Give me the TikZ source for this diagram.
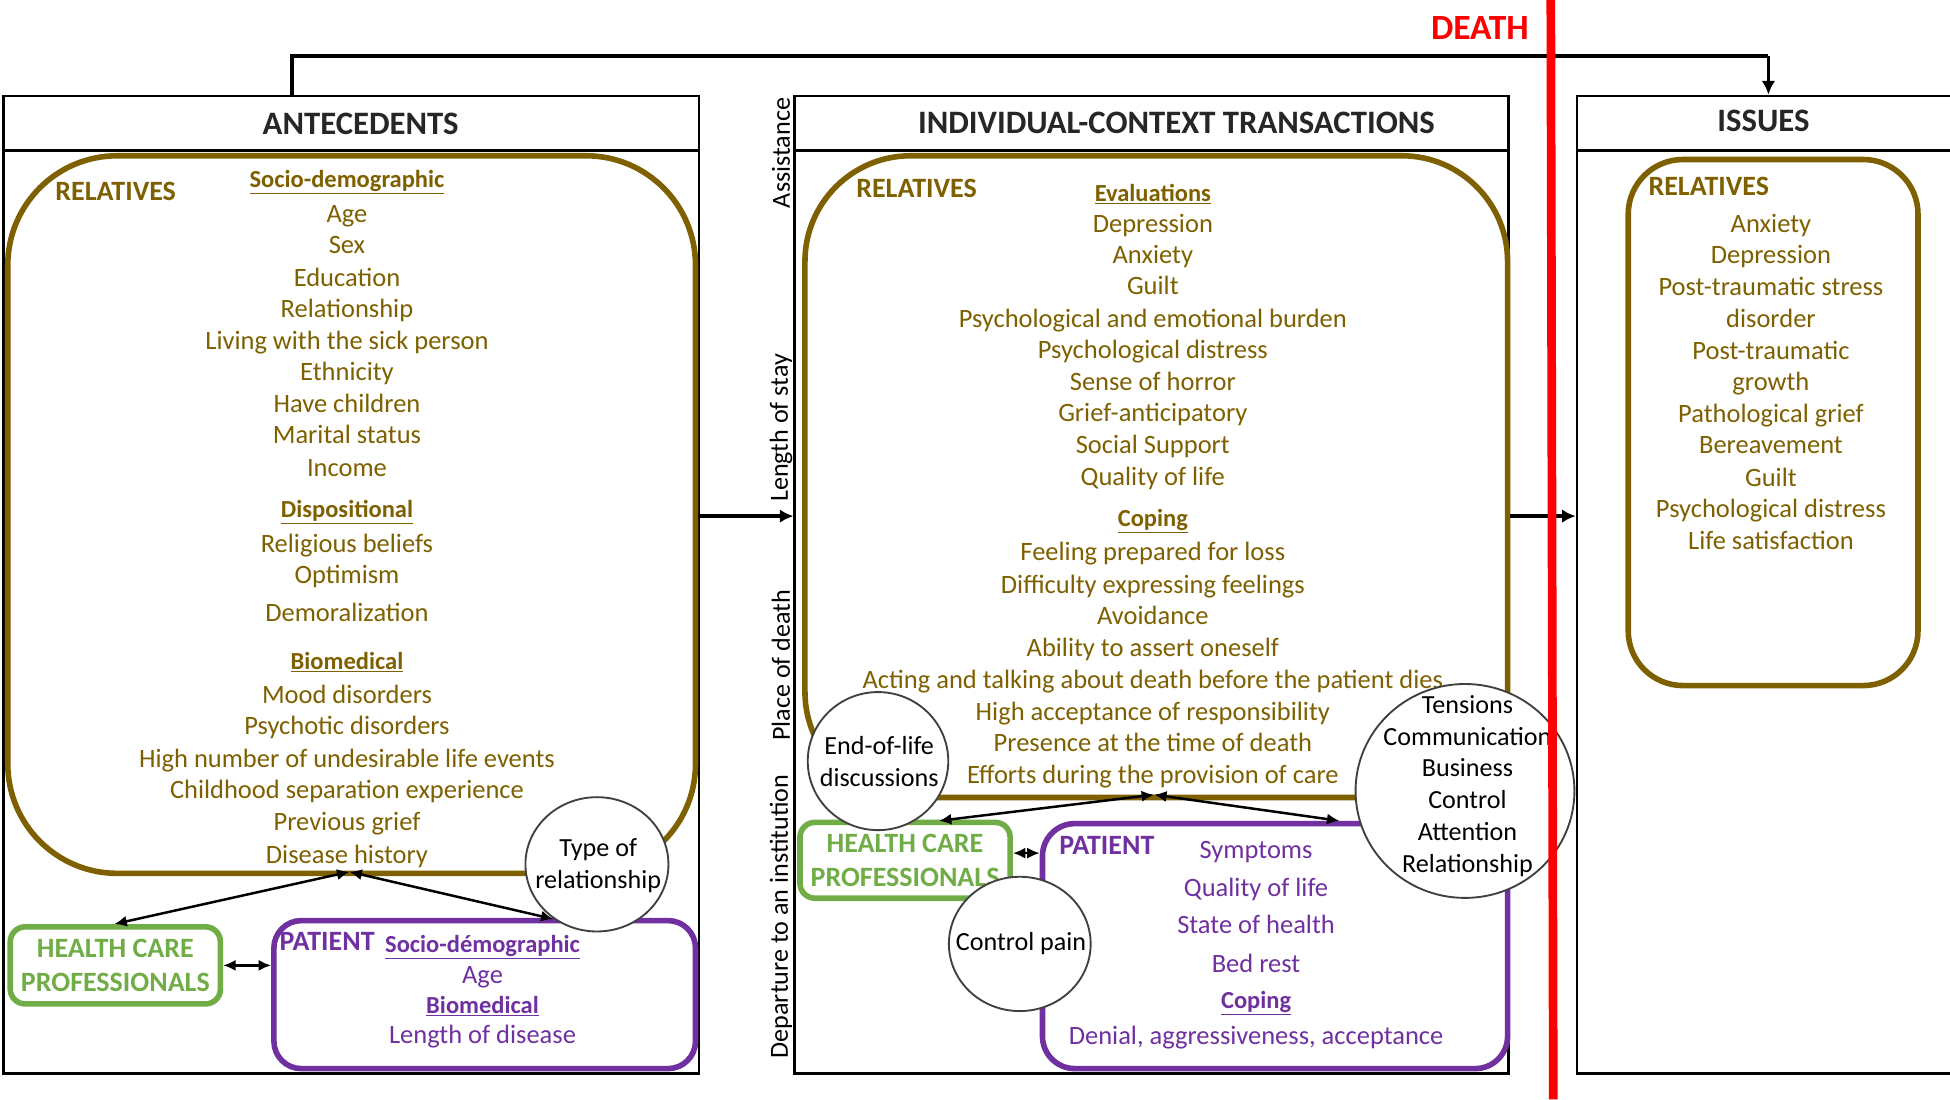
\documentclass[tikz,border=0pt]{standalone}
\usepackage{fontspec}
\setmainfont{Carlito}
\usetikzlibrary{shapes.geometric,arrows.meta}
\definecolor{olv}{HTML}{7F6000}
\definecolor{grn}{HTML}{70AD47}
\definecolor{purp}{HTML}{7030A0}
\definecolor{dk}{HTML}{262626}
\definecolor{cgray}{HTML}{404040}
\definecolor{deathred}{HTML}{FF0000}
\newcommand\hdu[1]{{\fontsize{19.7}{24}\selectfont\textbf{\underline{#1}}}}
\begin{document}
\begin{tikzpicture}[x=1pt,y=-1pt,
  txt/.style={anchor=base,inner sep=0pt,font=\fontsize{21.3}{25.5}\selectfont},
  ol/.style={txt,text=olv},
  pu/.style={txt,text=purp},
  ttl/.style={anchor=base,inner sep=0pt,font=\fontsize{26.3}{30}\selectfont\bfseries,text=dk},
  grp/.style={anchor=base,inner sep=0pt,font=\fontsize{22.5}{27}\selectfont\bfseries},
  frame/.style={draw=black,line width=2pt,anchor=north west,inner sep=0pt},
  relbox/.style={draw=olv,line width=4.5pt,anchor=north west,inner sep=0pt},
  hcpbox/.style={draw=grn,line width=4.5pt,anchor=north west,inner sep=0pt,rounded corners=12pt,
     align=center,text=grn,font=\fontsize{22.5}{27.5}\selectfont\bfseries},
  patbox/.style={draw=purp,line width=4.5pt,anchor=north west,inner sep=0pt,rounded corners=22pt},
  bub/.style={ellipse,draw=cgray,line width=1.5pt,fill=white,inner sep=0pt},
  bubtxt/.style={inner sep=0pt,align=center,font=\fontsize{21}{25.6}\selectfont,text=black},
  side/.style={inner sep=0pt,rotate=90,font=\fontsize{21}{25}\selectfont,text=black},
  link/.style={line width=2pt,{Latex[length=10pt,width=9pt]}-{Latex[length=10pt,width=9pt]}},
  flow/.style={line width=3pt,-{Latex[length=11pt,width=11pt]}}
]
\useasboundingbox (0,0) rectangle (1568,884);
\fill[white] (0,0) rectangle (1568,884);

% ---------- frames ----------
\node[frame,minimum width=559pt,minimum height=786pt] (antec) at (2,76) {};
\node[frame,minimum width=574pt,minimum height=786pt] (trans) at (638,76) {};
\node[frame,minimum width=303pt,minimum height=786pt] (issues) at (1267,76) {};
\draw[line width=2pt] (antec.west |- 0,121) -- (antec.east |- 0,121);
\draw[line width=2pt] (trans.west |- 0,121) -- (trans.east |- 0,121);
\draw[line width=2pt] (issues.west |- 0,121) -- (issues.east |- 0,121);
\node[ttl] (tA) at (290,108) {ANTECEDENTS};
\node[ttl] (tT) at (946,107) {INDIVIDUAL-CONTEXT TRANSACTIONS};
\node[ttl] (tI) at (1418,106) {ISSUES};

% ---------- antecedents ----------
\node[relbox,rounded corners=88pt,minimum width=553pt,minimum height=577pt] (relA) at (4,123) {};
\node[grp,text=olv] (relAl) at (93,161) {RELATIVES};
\node[ol] (hA1) at (279,151) {\hdu{Socio-demographic}};
\foreach \t/\y [count=\i] in {Age/173,Sex/198,Education/224,Relationship/249,Living with the sick person/275,Ethnicity/300,Have children/326,Marital status/351,Income/377}
  \node[ol] (aS\i) at (279,\y+6) {\t};
\node[ol] (hA2) at (279,416) {\hdu{Dispositional}};
\foreach \t/\y [count=\i] in {Religious beliefs/438,Optimism/463,Demoralization/494}
  \node[ol] (aD\i) at (279,\y+6) {\t};
\node[ol] (hA3) at (279,538) {\hdu{Biomedical}};
\foreach \t/\y [count=\i] in {Mood disorders/560,Psychotic disorders/585,High number of undesirable life events/611,Childhood separation experience/636,Previous grief/662,Disease history/688}
  \node[ol] (aB\i) at (279,\y+6) {\t};

\node[hcpbox,minimum width=169pt,minimum height=62pt] (hcpA) at (6,743) {HEALTH CARE\\PROFESSIONALS};
\node[patbox,minimum width=339pt,minimum height=119pt] (patA) at (218,738) {};
\node[grp,text=purp] (patAl) at (263,764) {PATIENT};
\node[pu] (pA1) at (388,766) {\hdu{Socio-démographic}};
\node[pu] (pA2) at (388,791) {Age};
\node[pu] (pA3) at (388,815) {\hdu{Biomedical}};
\node[pu] (pA4) at (388,839) {Length of disease};

\node[bub,minimum width=115pt,minimum height=108pt] (typeRel) at (480,695) {};
\node[bubtxt] (typeRelT) at (481,696) {Type of\\relationship};

\coordinate (rA) at (281,701);
\coordinate (hA) at (92,743);
\coordinate (pAt) at (445,739);
\draw[link] (rA) -- (hA);
\draw[link] (rA) -- (pAt);
\draw[link] (hcpA.east) -- (patA.west |- hcpA.east);

% ---------- transactions ----------
\node[relbox,rounded corners=85pt,minimum width=565pt,minimum height=516pt] (relT) at (645,123) {};
\node[grp,text=olv] (relTl) at (737,159) {RELATIVES};
\node[ol] (hT1) at (927,162) {\hdu{Evaluations}};
\foreach \t/\y [count=\i] in {Depression/181,Anxiety/206,Guilt/231,Psychological and emotional burden/257,Psychological distress/282,Sense of horror/308,Grief-anticipatory/333,Social Support/359,Quality of life/384}
  \node[ol] (tE\i) at (927,\y+6) {\t};
\node[ol] (hT2) at (927,423) {\hdu{Coping}};
\foreach \t/\y [count=\i] in {Feeling prepared for loss/445,Difficulty expressing feelings/471,Avoidance/496,Ability to assert oneself/522,Acting and talking about death before the patient dies/548,High acceptance of responsibility/573,Presence at the time of death/598,Efforts during the provision of care/624}
  \node[ol] (tC\i) at (927,\y+6) {\t};

\node[hcpbox,minimum width=169pt,minimum height=61pt] (hcpT) at (641,659) {HEALTH CARE\\PROFESSIONALS};
\node[patbox,rounded corners=26pt,minimum width=374pt,minimum height=197pt] (patT) at (836,660) {};
\node[grp,text=purp] (patTl) at (890,687) {PATIENT};
\foreach \t/\y [count=\i] in {Symptoms/684,Quality of life/715,State of health/745,Bed rest/776}
  \node[pu] (pT\i) at (1010,\y+6) {\t};
\node[pu] (pT5) at (1010,811) {\hdu{Coping}};
\node[pu] (pT6) at (1010,840) {Denial, aggressiveness, acceptance};

\node[bub,minimum width=113pt,minimum height=111pt] (eol) at (706,612) {};
\node[bubtxt] (eolT) at (707,612) {End-of-life\\discussions};
\node[bub,minimum width=114pt,minimum height=108pt] (cpain) at (820,759) {};
\node[bubtxt] (cpainT) at (821,759) {Control pain};
\node[bub,minimum width=176pt,minimum height=172pt] (tens) at (1178,636) {};
\node[bubtxt] (tensT) at (1180,632) {Tensions\\Communication\\Business\\Control\\Attention\\Relationship};

\coordinate (rT) at (928,639);
\coordinate (hT) at (755,660);
\coordinate (pTt) at (1077,660);
\draw[link] (rT) -- (hT);
\draw[link] (rT) -- (pTt);
\draw[link] (hcpT.east |- 0,686) -- (patT.west |- 0,686);

\node[side] (s1) at (628,123) {Assistance};
\node[side] (s2) at (628,344) {Length of stay};
\node[side] (s3) at (628,535) {Place of death};
\node[side] (s4) at (628,737) {Departure to an institution};

% ---------- issues ----------
\node[relbox,rounded corners=44pt,minimum width=233pt,minimum height=423pt] (relI) at (1307,126) {};
\node[grp,text=olv] (relIl) at (1374,157) {RELATIVES};
\foreach \t/\y [count=\i] in {Anxiety/181,Depression/206,Post-traumatic stress/232,disorder/257,Post-traumatic/283,growth/308,Pathological grief/334,Bereavement/359,Guilt/385,Psychological distress/410,Life satisfaction/436}
  \node[ol] (iR\i) at (1424,\y+6) {\t};

% ---------- flows ----------
\draw[flow] (relA.east |- 0,415) -- (trans.west |- 0,415);
\draw[flow] (relT.east |- 0,415) -- (issues.west |- 0,415);
\coordinate (topL) at (235,45);
\coordinate (topR) at (1422,45);
\draw[line width=3pt] (antec.north -| topL) -- (topL) -- (topR);
\draw[flow] (topR) -- (issues.north -| topR);

% ---------- death ----------
\draw[deathred,line width=7pt] (1247,0) -- (1249,884);
\node[anchor=base,inner sep=0pt,font=\fontsize{28.5}{30}\selectfont\bfseries,text=deathred] (death) at (1190,32) {DEATH};
\end{tikzpicture}
\end{document}
